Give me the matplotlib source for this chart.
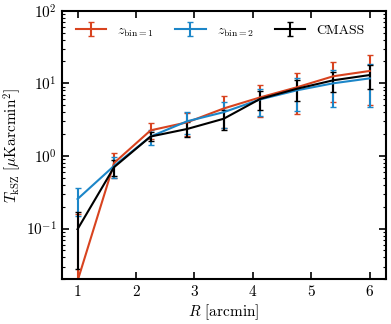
import numpy as np
import matplotlib
matplotlib.use("Agg")
import matplotlib.pyplot as plt

plt.rcParams['font.family'] = 'serif'
plt.rcParams['font.serif'] = ['cmr10', 'DejaVu Serif']
plt.rcParams['mathtext.fontset'] = 'cm'
plt.rcParams['axes.formatter.use_mathtext'] = True

R = [1.0, 1.625, 2.25, 2.875, 3.5, 4.125, 4.75, 5.375, 6.0]

z1_val = [0.019, 0.80, 2.25, 2.9, 4.5, 6.4, 8.8, 12.5, 14.8]
z1_err = [0.14, 0.30, 0.55, 1.0, 2.1, 3.0, 5.0, 7.0, 9.8]

z2_val = [0.255, 0.73, 1.85, 3.0, 4.0, 6.0, 8.0, 10.0, 11.7]
z2_err = [0.105, 0.24, 0.45, 1.0, 1.6, 2.4, 3.8, 5.3, 7.0]

cm_val = [0.098, 0.70, 1.85, 2.35, 3.25, 6.1, 8.4, 11.0, 13.0]
cm_err = [0.07, 0.17, 0.26, 0.55, 1.0, 1.8, 2.7, 3.5, 4.7]

labels = [r'$z_{\rm bin=1}$', r'$z_{\rm bin=2}$', 'CMASS']
colors = ['#d8431f', '#1c86c8', 'black']

fig = plt.figure(figsize=(3.91, 3.24), dpi=100)
ax = fig.add_axes([0.158, 0.138, 0.828, 0.829])

for v, e, c, l in zip([z1_val, z2_val, cm_val], [z1_err, z2_err, cm_err], colors, labels):
    ax.errorbar(R, v, yerr=e, color=c, label=l, lw=1.5, elinewidth=1.5,
                capsize=2.5, capthick=1.0)

ax.set_yscale('log')
ax.set_ylim(0.02, 100)
ax.set_xlim(0.73, 6.27)
ax.set_xticks([1, 2, 3, 4, 5, 6])
ax.tick_params(which='both', direction='in', top=True, right=True, labelsize=11)
ax.tick_params(which='major', length=5, width=1.2)
ax.tick_params(which='minor', length=2.5, width=0.8)
for s in ax.spines.values():
    s.set_linewidth(1.5)

ax.set_xlabel(r'$R$ [arcmin]', fontsize=11, labelpad=2)
ax.set_ylabel(r'$T_{\rm kSZ}\ [\mu{\rm K arcmin}^2]$', fontsize=11, labelpad=2)

ax.legend(loc='upper left', ncol=3, frameon=False, fontsize=10,
          handlelength=2.2, columnspacing=1.5, handletextpad=0.8,
          bbox_to_anchor=(0.0, 1.0), borderaxespad=0.6)

fig.savefig('out.png', dpi=100)
